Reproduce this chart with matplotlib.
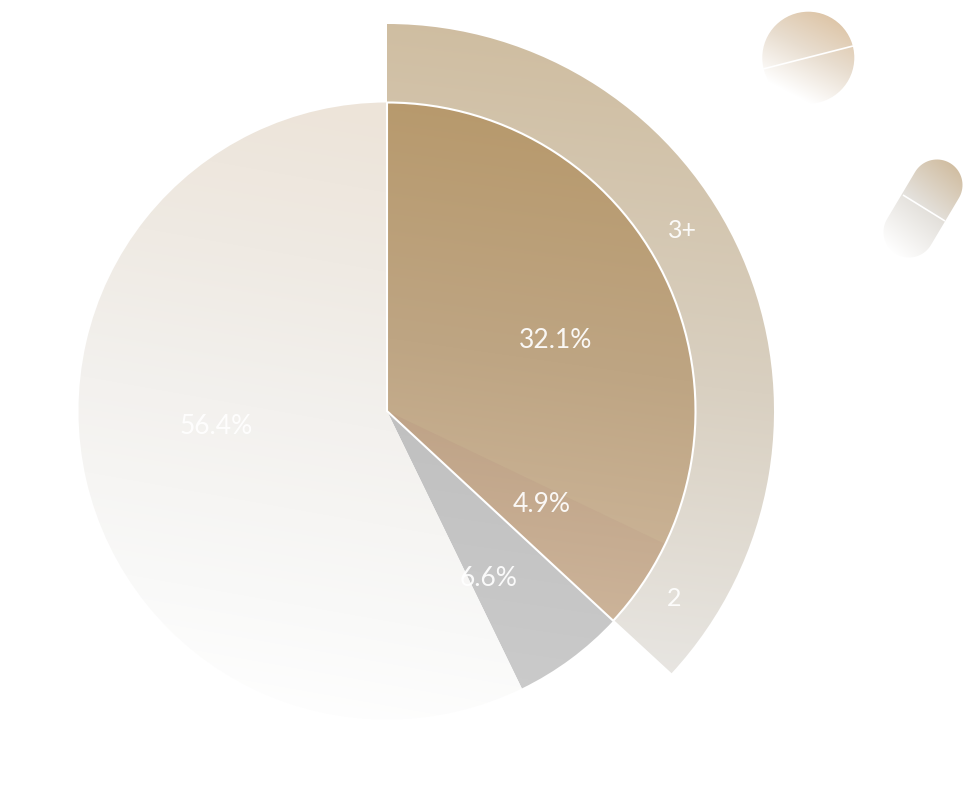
import numpy as np
import matplotlib
matplotlib.use('Agg')
import matplotlib.pyplot as plt
from matplotlib.colors import to_rgb
from matplotlib.patches import Circle, Wedge, PathPatch
from matplotlib.path import Path

# Share of the circle (percent)
categories = ['3+', '2', 'other', 'none']
pie_labels = ['32.1%', '4.9%', '6.6%', '56.4%']
pie_shares = [32.1, 4.8, 5.9, 57.2]
ring_labels = ['3+', '2']
ring_shares = [32.1, 4.75]

W, H = 975, 798
cx, cy = 387, H - 411
r_pie = 308.5
r_ring = 387

plt.rcParams['font.family'] = ['Lato', 'DejaVu Sans']

fig = plt.figure(figsize=(W / 100, H / 100), dpi=100)
ax = fig.add_axes([0, 0, 1, 1])
ax.set_xlim(0, W)
ax.set_ylim(0, H)
ax.axis('off')


def gradient(patch, stops, p0, p1, z):
    # linear gradient between two picture points, clipped to the patch
    patch.set(facecolor='none', edgecolor='none', zorder=z)
    ax.add_patch(patch)
    xx, yy = np.meshgrid(np.arange(W) + 0.5, H - np.arange(H) - 0.5)
    x0, y0, x1, y1 = p0[0], H - p0[1], p1[0], H - p1[1]
    dx, dy = x1 - x0, y1 - y0
    t = ((xx - x0) * dx + (yy - y0) * dy) / (dx * dx + dy * dy)
    pos = [s[0] for s in stops]
    rgb = np.array([to_rgb(s[1]) for s in stops])
    img = np.dstack([np.interp(t, pos, rgb[:, i]) for i in range(3)])
    im = ax.imshow(img, extent=(0, W, 0, H), origin='upper', aspect='auto',
                   zorder=z, interpolation='bilinear')
    im.set_clip_path(patch)


def angle(share):
    return 90 - share * 3.6


# outer ring
ring_total = sum(ring_shares)
ring = Wedge((cx, cy), r_ring, angle(ring_total), 90, width=r_ring - r_pie)
gradient(ring, [(0, '#CFBDA0'), (0.5, '#D9D0C1'), (1, '#EAE9E7')],
         (480, 20), (400, 690), 1)

# inner pie
edges = np.cumsum([0] + pie_shares)
slice_2 = Wedge((cx, cy), r_pie, angle(edges[2]), 90)
gradient(slice_2, [(0, '#B0916A'), (0.6, '#BFA387'), (1, '#CEB69C')],
         (470, 100), (400, 620), 2)
slice_3 = Wedge((cx, cy), r_pie, angle(edges[1]), angle(edges[0]))
gradient(slice_3, [(0, '#B7996C'), (0.5, '#BEA583'), (1, '#CFB89D')],
         (470, 100), (400, 590), 2.1)
slice_o = Wedge((cx, cy), r_pie, angle(edges[3]), angle(edges[2]))
gradient(slice_o, [(0, '#C0C0C0'), (1, '#CBCBCB')], (470, 420), (430, 690), 2)
slice_n = Wedge((cx, cy), r_pie, angle(edges[4]), angle(edges[3]))
gradient(slice_n, [(0, '#EDE4D9'), (0.25, '#EFEAE3'), (0.5, '#F3F1EE'),
                   (0.8, '#F9F9F8'), (1, '#FFFFFF')],
         (340, 105), (230, 720), 2)

# white outline round the two brown slices
ax.add_patch(Wedge((cx, cy), r_pie, angle(edges[2]), 90, facecolor='none',
                   edgecolor='white', linewidth=1.5, zorder=3))

# tablet
tablet = Circle((808.3, H - 57.7), 46)
gradient(tablet, [(0, '#DCC2A2'), (0.5, '#E8DDCF'), (1, '#FFFFFF')],
         (835, 12), (792, 94), 2)
ax.plot([763, 853], [H - 69, H - 46], color='white', lw=1.2, zorder=3,
        solid_capstyle='butt')

# capsule
top = np.array([937.0, H - 185.0])
bottom = np.array([909.0, H - 232.0])
cap_r = 25.5
base = np.degrees(np.arctan2(*(top - bottom)[::-1]))
a1 = np.radians(np.linspace(base - 90, base + 90, 40))
a2 = np.radians(np.linspace(base + 90, base + 270, 40))
outline = np.vstack([top + cap_r * np.c_[np.cos(a1), np.sin(a1)],
                     bottom + cap_r * np.c_[np.cos(a2), np.sin(a2)]])
capsule = PathPatch(Path(np.vstack([outline, outline[:1]]), closed=True))
gradient(capsule, [(0, '#D0BC9F'), (0.5, '#E4E1DC'), (1, '#FFFFFF')],
         (965, 172), (895, 255), 2)
ax.plot([903, 945], [H - 195, H - 221], color='white', lw=1.2, zorder=3,
        solid_capstyle='butt')

# labels
pie_pos = [(556, 341), (542, 505), (489, 579), (216, 427)]
for txt, (x, y) in zip(pie_labels, pie_pos):
    ax.text(x, H - y, txt, color='white', fontsize=19, alpha=0.92,
            ha='center', va='center', zorder=5)
ring_pos = [(682, 230), (674, 598)]
for txt, (x, y) in zip(ring_labels, ring_pos):
    ax.text(x, H - y, txt, color='white', fontsize=18, alpha=0.92,
            ha='center', va='center', zorder=5)

fig.savefig('out.png', dpi=100)
